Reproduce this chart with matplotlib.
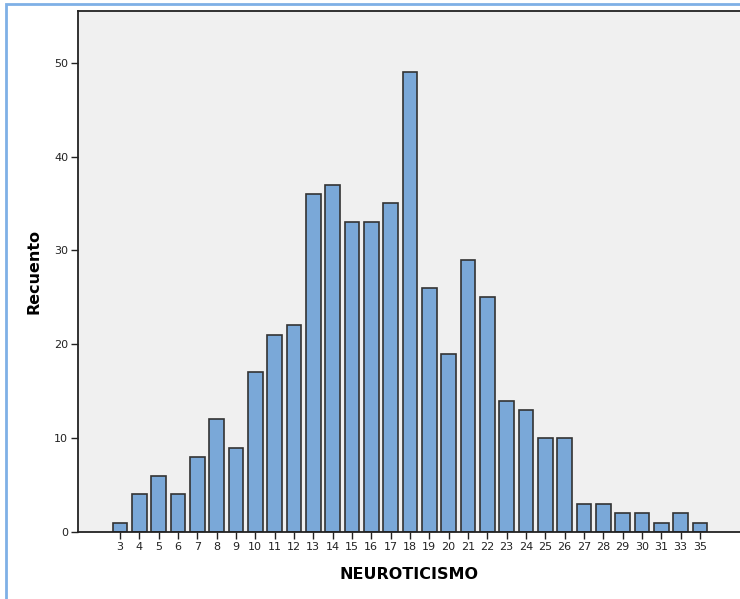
import matplotlib
matplotlib.use("Agg")
import matplotlib.pyplot as plt
from matplotlib.patches import Rectangle

# Datos
categorias = ['3', '4', '5', '6', '7', '8', '9', '10', '11', '12', '13', '14', '15', '16',
              '17', '18', '19', '20', '21', '22', '23', '24', '25', '26', '27', '28', '29',
              '30', '31', '33', '35']
recuento = [1, 4, 6, 4, 8, 12, 9, 17, 21, 22, 36, 37, 33, 33,
            35, 49, 26, 19, 29, 25, 14, 13, 10, 10, 3, 3, 2,
            2, 1, 2, 1]

fig = plt.figure(figsize=(7.40, 5.99), dpi=100)
fig.patch.set_facecolor('white')

# Marco azul exterior
fig.patches.append(Rectangle((6 / 740, -0.1), 1.2, 1 - 4 / 599 + 0.1,
                             transform=fig.transFigure, fill=False,
                             edgecolor='#7fb0e6', linewidth=2.0, zorder=0))

ax = fig.add_axes([78 / 740, 1 - 532 / 599, 1 - 78 / 740, (532 - 11) / 599])
ax.set_facecolor('#f0f0f0')

pos = list(range(len(categorias)))
ax.bar(pos, recuento, width=0.76, color='#7aa8d8', edgecolor='#333333', linewidth=1.2, zorder=2)

ax.set_xlim(-2.17, 32.07)
ax.set_ylim(0, 55.5)

ax.set_xticks(pos)
ax.set_xticklabels(categorias, fontsize=8)
ax.set_yticks([0, 10, 20, 30, 40, 50])
ax.set_yticklabels(['0', '10', '20', '30', '40', '50'], fontsize=8)
ax.tick_params(axis='both', direction='out', length=5, width=1, color='#222222',
               labelcolor='#222222', pad=2)

for s in ['left', 'top', 'bottom']:
    ax.spines[s].set_color('#222222')
    ax.spines[s].set_linewidth(1.3)
ax.spines['right'].set_visible(False)

ax.set_xlabel('NEUROTICISMO', fontsize=11.5, fontweight='bold', labelpad=11)
ax.set_ylabel('Recuento', fontsize=11.5, fontweight='bold', labelpad=9)

fig.savefig('out.png', dpi=100)
